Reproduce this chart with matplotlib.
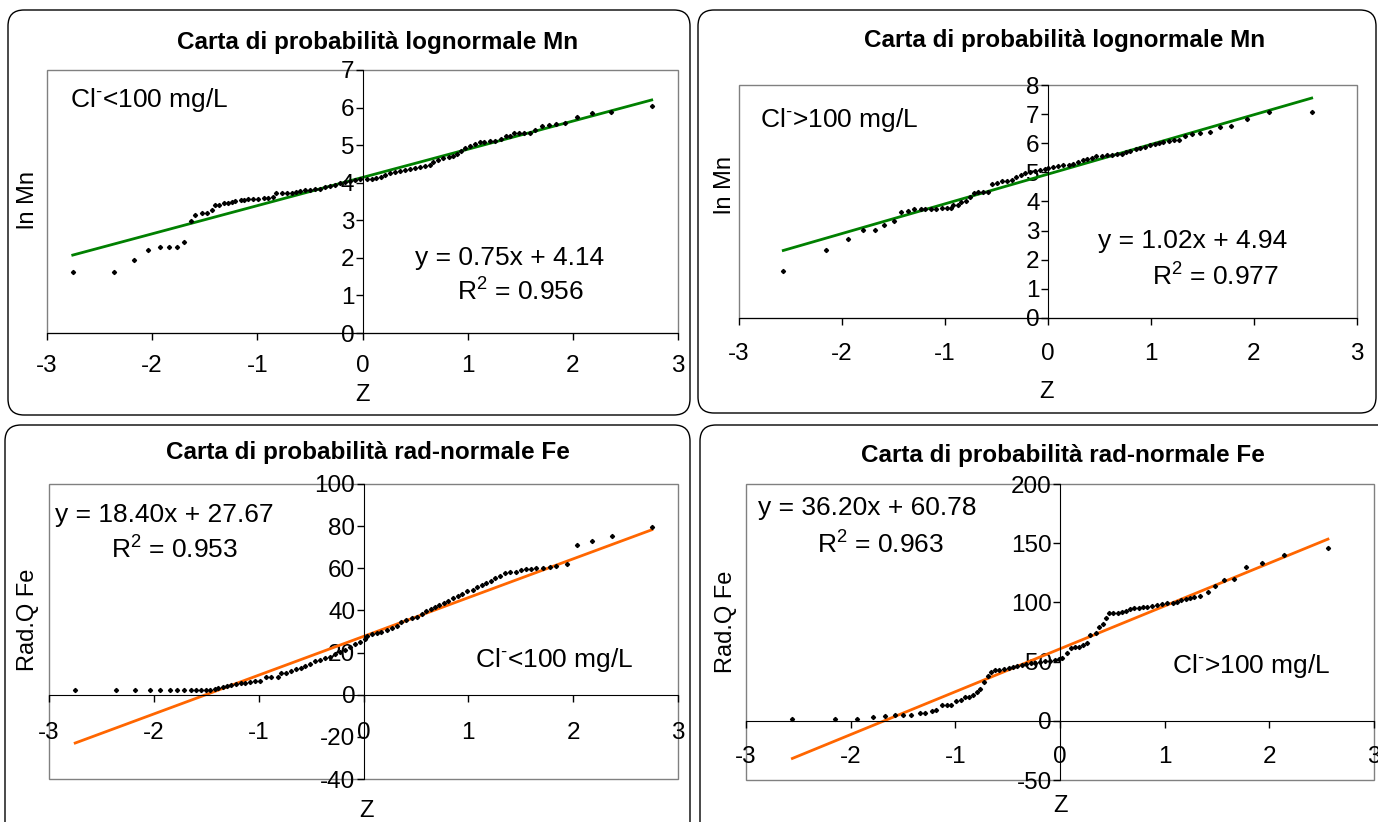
import numpy as np
import matplotlib
matplotlib.use('Agg')
import matplotlib.pyplot as plt
from matplotlib.patches import FancyBboxPatch, Rectangle

plt.rcParams['font.family'] = ['Liberation Sans', 'DejaVu Sans']
plt.rcParams['axes.unicode_minus'] = False
plt.rcParams['mathtext.fontset'] = 'custom'
plt.rcParams['mathtext.rm'] = 'Liberation Sans'
plt.rcParams['mathtext.it'] = 'Liberation Sans:italic'

# --- data ---
# ln Mn, Cl- < 100 mg/L
z_mn_lo = [-2.755, -2.36, -2.17, -2.04, -1.93, -1.84, -1.76, -1.70, -1.63, -1.59,
           -1.53, -1.48, -1.43, -1.40, -1.36, -1.32, -1.28, -1.24, -1.21, -1.16,
           -1.13, -1.09, -1.04, -0.99, -0.94, -0.90, -0.85, -0.82, -0.77, -0.72,
           -0.67, -0.63, -0.59, -0.55, -0.50, -0.45, -0.40, -0.36, -0.31, -0.26,
           -0.21, -0.17, -0.12, -0.07, -0.02, 0.04, 0.09, 0.13, 0.18, 0.21,
           0.26, 0.31, 0.36, 0.40, 0.45, 0.50, 0.55, 0.59, 0.64, 0.67,
           0.72, 0.77, 0.82, 0.86, 0.90, 0.94, 0.97, 1.02, 1.07, 1.12,
           1.16, 1.21, 1.26, 1.32, 1.36, 1.40, 1.44, 1.49, 1.54, 1.59,
           1.64, 1.71, 1.77, 1.84, 1.93, 2.04, 2.18, 2.36, 2.75]
lnmn_lo = [1.62, 1.62, 1.95, 2.21, 2.30, 2.30, 2.30, 2.41, 2.98, 3.14,
           3.19, 3.19, 3.27, 3.40, 3.42, 3.45, 3.47, 3.49, 3.51, 3.53,
           3.54, 3.56, 3.57, 3.57, 3.58, 3.59, 3.63, 3.72, 3.73, 3.73,
           3.73, 3.74, 3.79, 3.81, 3.81, 3.82, 3.84, 3.89, 3.91, 3.95,
           3.98, 4.02, 4.05, 4.07, 4.09, 4.09, 4.11, 4.12, 4.14, 4.21,
           4.25, 4.28, 4.31, 4.34, 4.36, 4.38, 4.43, 4.45, 4.47, 4.56,
           4.60, 4.65, 4.69, 4.71, 4.76, 4.85, 4.92, 4.98, 5.03, 5.08,
           5.09, 5.11, 5.11, 5.16, 5.25, 5.25, 5.32, 5.33, 5.33, 5.33,
           5.40, 5.51, 5.53, 5.56, 5.60, 5.76, 5.85, 5.88, 6.03]

# ln Mn, Cl- > 100 mg/L
z_mn_hi = [-2.57, -2.155, -1.945, -1.80, -1.68, -1.59, -1.495, -1.43, -1.36, -1.30,
           -1.235, -1.19, -1.14, -1.09, -1.03, -0.98, -0.94, -0.92, -0.87, -0.84,
           -0.80, -0.76, -0.72, -0.68, -0.63, -0.58, -0.54, -0.50, -0.45, -0.40,
           -0.35, -0.31, -0.265, -0.22, -0.175, -0.126, -0.08, -0.03, 0.003, 0.05,
           0.10, 0.15, 0.20, 0.245, 0.29, 0.34, 0.38, 0.43, 0.47, 0.52,
           0.57, 0.62, 0.67, 0.715, 0.76, 0.80, 0.85, 0.89, 0.94, 0.99,
           1.04, 1.08, 1.12, 1.17, 1.22, 1.275, 1.33, 1.40, 1.48, 1.57,
           1.67, 1.78, 1.93, 2.15, 2.56]
lnmn_hi = [1.62, 2.33, 2.71, 3.01, 3.01, 3.20, 3.34, 3.64, 3.66, 3.74,
           3.73, 3.74, 3.74, 3.74, 3.79, 3.79, 3.78, 3.87, 3.87, 3.99,
           4.03, 4.14, 4.28, 4.33, 4.34, 4.34, 4.60, 4.65, 4.69, 4.71,
           4.74, 4.83, 4.92, 4.99, 5.02, 5.05, 5.08, 5.11, 5.16, 5.20,
           5.23, 5.25, 5.25, 5.29, 5.35, 5.41, 5.45, 5.50, 5.55, 5.55,
           5.59, 5.60, 5.62, 5.64, 5.69, 5.73, 5.79, 5.83, 5.87, 5.94,
           5.99, 6.02, 6.04, 6.09, 6.12, 6.12, 6.26, 6.31, 6.34, 6.39,
           6.55, 6.58, 6.83, 7.08, 7.07]

# Rad.Q Fe, Cl- < 100 mg/L
z_fe_lo = [-2.75, -2.365, -2.18, -2.04, -1.94, -1.85, -1.78, -1.71, -1.65, -1.60,
           -1.55, -1.50, -1.46, -1.42, -1.385, -1.34, -1.30, -1.26, -1.22, -1.17,
           -1.13, -1.08, -1.035, -0.99, -0.93, -0.88, -0.82, -0.79, -0.74, -0.69,
           -0.64, -0.60, -0.56, -0.51, -0.46, -0.415, -0.37, -0.32, -0.27, -0.22,
           -0.18, -0.13, -0.08, -0.03, 0.01, 0.03, 0.08, 0.13, 0.17, 0.22,
           0.27, 0.32, 0.36, 0.41, 0.46, 0.51, 0.555, 0.60, 0.64, 0.68,
           0.72, 0.77, 0.81, 0.85, 0.90, 0.94, 0.99, 1.04, 1.08, 1.13,
           1.17, 1.22, 1.255, 1.30, 1.35, 1.40, 1.45, 1.50, 1.55, 1.595,
           1.65, 1.71, 1.78, 1.84, 1.94, 2.04, 2.18, 2.37, 2.75]
rq_fe_lo = [2.2, 2.2, 2.2, 2.2, 2.2, 2.2, 2.2, 2.2, 2.2, 2.2,
            2.2, 2.2, 2.2, 2.7, 3.0, 3.8, 4.3, 4.6, 4.9, 5.4,
            5.7, 6.0, 6.4, 6.6, 8.2, 8.2, 8.5, 10.1, 10.4, 11.4,
            12.0, 12.7, 13.6, 14.6, 15.8, 16.5, 17.3, 18.0, 19.3, 20.4,
            21.2, 22.5, 23.9, 25.2, 26.3, 27.9, 28.7, 29.4, 29.9, 30.7,
            31.7, 32.6, 34.6, 35.4, 36.2, 37.0, 38.3, 39.7, 40.5, 41.8,
            42.6, 43.7, 44.6, 46.0, 46.8, 47.8, 49.2, 49.7, 51.3, 52.1,
            52.9, 54.0, 55.2, 56.3, 57.6, 58.2, 58.4, 59.2, 59.5, 59.8,
            60.3, 60.3, 60.5, 61.1, 62.0, 71.2, 73.1, 75.5, 79.8]

# Rad.Q Fe, Cl- > 100 mg/L
z_fe_hi = [-2.557, -2.15, -1.94, -1.79, -1.675, -1.58, -1.50, -1.42, -1.34, -1.29,
           -1.225, -1.18, -1.13, -1.08, -1.04, -0.99, -0.945, -0.905, -0.865, -0.83,
           -0.79, -0.76, -0.73, -0.69, -0.66, -0.62, -0.58, -0.535, -0.49, -0.45,
           -0.41, -0.365, -0.325, -0.28, -0.235, -0.19, -0.145, -0.10, -0.05, -0.007,
           0.016, 0.064, 0.105, 0.14, 0.18, 0.22, 0.255, 0.29, 0.34, 0.375,
           0.41, 0.44, 0.47, 0.51, 0.55, 0.59, 0.63, 0.67, 0.71, 0.75,
           0.79, 0.83, 0.875, 0.925, 0.97, 1.025, 1.08, 1.12, 1.16, 1.205,
           1.24, 1.28, 1.34, 1.41, 1.48, 1.57, 1.665, 1.78, 1.93, 2.14,
           2.56]
rq_fe_hi = [1.8, 1.8, 1.8, 2.9, 4.0, 4.9, 4.6, 4.9, 6.8, 6.8,
            8.3, 9.1, 13.3, 13.6, 13.6, 17.0, 17.6, 19.8, 19.8, 21.8,
            24.3, 27.1, 33.0, 37.8, 41.5, 42.9, 42.9, 43.5, 44.3, 45.2,
            46.3, 47.1, 47.7, 48.6, 49.1, 49.9, 50.5, 50.8, 51.4, 52.5,
            52.8, 57.0, 61.2, 62.1, 62.6, 64.0, 66.0, 72.5, 74.4, 79.0,
            81.8, 86.6, 90.8, 90.8, 91.3, 92.1, 92.7, 94.4, 95.0, 95.5,
            96.4, 96.4, 97.0, 97.8, 98.6, 99.2, 99.7, 100.6, 102.0, 103.1,
            104.0, 104.8, 105.7, 108.8, 113.9, 118.9, 119.8, 130.2, 133.0, 139.8,
            145.6]

# trendline coefficients and R2 printed on the chart
fit_mn_lo = (0.75, 4.14, 0.956)
fit_mn_hi = (1.02, 4.94, 0.977)
fit_fe_lo = (18.40, 27.67, 0.953)
fit_fe_hi = (36.20, 60.78, 0.963)

W, H = 1378, 822
fig = plt.figure(figsize=(W / 100, H / 100), dpi=100)

tick_fs = 17.5
txt_fs = 19
lab_fs = 17
title_fs = 17.5


def rect(l, r, t, b):
    # pixel box -> figure fraction
    return [l / W, (H - b) / H, (r - l) / W, (b - t) / H]


def frame(l, r, t, b):
    box = FancyBboxPatch((l / 100, (H - b) / 100), (r - l) / 100, (b - t) / 100,
                         boxstyle="round,pad=0,rounding_size=0.16",
                         transform=fig.dpi_scale_trans, fill=False,
                         edgecolor='black', linewidth=1.0)
    fig.add_artist(box)


def panel(pos, z, v, fit, color, ylim, yticks, xpad):
    ax = fig.add_axes(pos)
    ax.set_xlim(-3, 3)
    ax.set_ylim(*ylim)
    ax.set_xticks(range(-3, 4))
    ax.set_yticks(yticks)
    for s in ['top', 'right']:
        ax.spines[s].set_visible(False)
    ax.spines['bottom'].set_position(('data', 0))
    ax.spines['left'].set_position(('data', 0))
    ax.add_patch(Rectangle((0, 0), 1, 1, transform=ax.transAxes, fill=False,
                           edgecolor='#808080', linewidth=1.0, clip_on=False, zorder=0))
    ax.tick_params(axis='x', direction='out', length=5, width=1, pad=xpad, labelsize=tick_fs)
    ax.tick_params(axis='y', direction='out', length=5, width=1, pad=1, labelsize=tick_fs)
    a, b, r2 = fit
    zz = np.array([min(z), max(z)])
    ax.plot(zz, a * zz + b, color=color, linewidth=2.0, zorder=2)
    ax.plot(z, v, linestyle='none', marker='D', markersize=2.1,
            color='black', zorder=3)
    return ax


def note(ax, x, y, s):
    ax.text(x, y, s, fontsize=txt_fs, ha='left', va='center')


green = '#008000'
orange = '#ff6600'
cl_lo = r'Cl$^{\text{-}}$<100 mg/L'
cl_hi = r'Cl$^{\text{-}}$>100 mg/L'

# frames
frame(8, 690, 10, 415)
frame(698, 1376, 10, 413)
frame(5, 690, 425, 840)
frame(700, 1395, 425, 840)

ax1 = panel(rect(47, 678, 70, 333), z_mn_lo, lnmn_lo, fit_mn_lo, green,
            (0, 7), range(0, 8), 11)
ax2 = panel(rect(739, 1357, 85, 318), z_mn_hi, lnmn_hi, fit_mn_hi, green,
            (0, 8), range(0, 9), 13)
ax3 = panel(rect(49, 678, 484, 779), z_fe_lo, rq_fe_lo, fit_fe_lo, orange,
            (-40, 100), range(-40, 101, 20), 15)
ax4 = panel(rect(746, 1374, 484, 780), z_fe_hi, rq_fe_hi, fit_fe_hi, orange,
            (-50, 200), range(-50, 201, 50), 13)

note(ax1, -2.78, 6.2, cl_lo)
note(ax1, 0.50, 2.0, 'y = %.2fx + %.2f' % fit_mn_lo[:2])
note(ax1, 0.90, 1.09, r'R$^{2}$ = %.3f' % fit_mn_lo[2])

note(ax2, -2.80, 6.8, cl_hi)
note(ax2, 0.485, 2.64, 'y = %.2fx + %.2f' % fit_mn_hi[:2])
note(ax2, 1.01, 1.41, r'R$^{2}$ = %.3f' % fit_mn_hi[2])

note(ax3, -2.94, 85.3, 'y = %.2fx + %.2f' % fit_fe_lo[:2])
note(ax3, -2.41, 68.7, r'R$^{2}$ = %.3f' % fit_fe_lo[2])
note(ax3, 1.06, 16.5, cl_lo)

note(ax4, -2.89, 179.7, 'y = %.2fx + %.2f' % fit_fe_hi[:2])
note(ax4, -2.32, 148.5, r'R$^{2}$ = %.3f' % fit_fe_hi[2])
note(ax4, 1.07, 46.3, cl_hi)

# titles and axis labels
titles = [(378, 42, 'Carta di probabilità lognormale Mn'),
          (1065, 40, 'Carta di probabilità lognormale Mn'),
          (368, 452, 'Carta di probabilità rad-normale Fe'),
          (1063, 455, 'Carta di probabilità rad-normale Fe')]
for x, y, s in titles:
    fig.text(x / W, 1 - y / H, s, fontsize=title_fs, fontweight='bold',
             ha='center', va='center')

for x, y in [(363, 395), (1047, 392), (366, 811), (1060, 806)]:
    fig.text(x / W, 1 - y / H, 'Z', fontsize=lab_fs, ha='center', va='center')
for x, y, s in [(28, 200, 'ln Mn'), (725, 185, 'ln Mn'),
                (28, 620, 'Rad.Q Fe'), (726, 622, 'Rad.Q Fe')]:
    fig.text(x / W, 1 - y / H, s, fontsize=lab_fs, rotation=90,
             ha='center', va='center')

fig.savefig('out.png', dpi=100)
